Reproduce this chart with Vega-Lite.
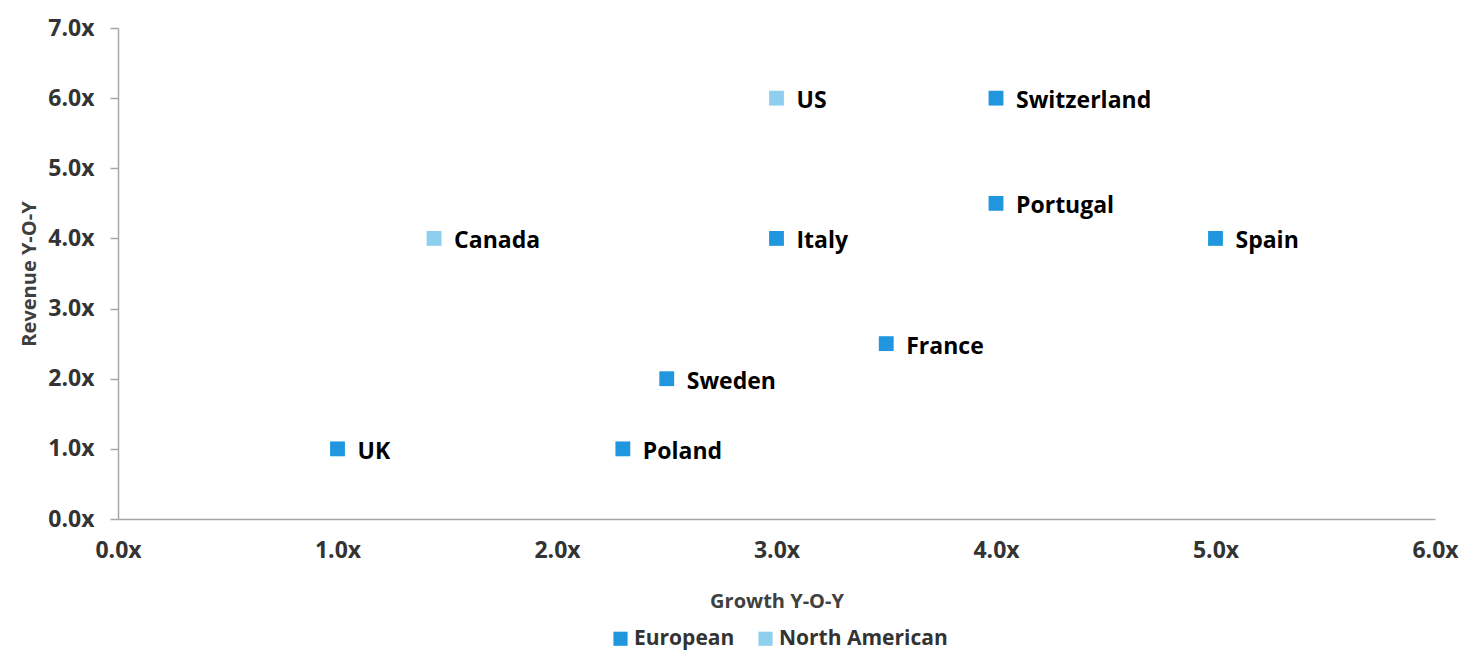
{
  "$schema": "https://vega.github.io/schema/vega-lite/v6.json",
  "autosize": {"type": "none"},
  "width": 1317,
  "height": 491,
  "padding": {"left": 118, "top": 28, "right": 42, "bottom": 137},
  "background": "white",
  "config": {
    "font": "Open Sans",
    "view": {"stroke": null}
  },
  "data": {
    "values": [
      {"country": "UK", "growth": 1.0, "revenue": 1.0, "region": "European"},
      {"country": "Canada", "growth": 1.44, "revenue": 4.0, "region": "North American"},
      {"country": "Poland", "growth": 2.3, "revenue": 1.0, "region": "European"},
      {"country": "Sweden", "growth": 2.5, "revenue": 2.0, "region": "European"},
      {"country": "Italy", "growth": 3.0, "revenue": 4.0, "region": "European"},
      {"country": "US", "growth": 3.0, "revenue": 6.0, "region": "North American"},
      {"country": "France", "growth": 3.5, "revenue": 2.5, "region": "European"},
      {"country": "Switzerland", "growth": 4.0, "revenue": 6.0, "region": "European"},
      {"country": "Portugal", "growth": 4.0, "revenue": 4.5, "region": "European"},
      {"country": "Spain", "growth": 5.0, "revenue": 4.0, "region": "European"}
    ]
  },
  "encoding": {
    "x": {
      "field": "growth", "type": "quantitative",
      "scale": {"domain": [0, 6], "nice": false, "zero": true},
      "axis": {
        "title": "Growth Y-O-Y", "values": [0, 1, 2, 3, 4, 5, 6], "format": ".1f", "labelExpr": "datum.label + 'x'",
        "grid": false, "ticks": false, "domainColor": "#A6A6A6", "domainWidth": 1.5,
        "labelFlush": false, "labelOverlap": false,
        "labelFont": "Open Sans", "labelFontWeight": "bold", "labelFontSize": 23, "labelColor": "#333333", "labelPadding": 20,
        "titleFont": "Open Sans", "titleFontWeight": "bold", "titleFontSize": 20, "titleColor": "#404040", "titlePadding": 29
      }
    },
    "y": {
      "field": "revenue", "type": "quantitative",
      "scale": {"domain": [0, 7], "nice": false},
      "axis": {
        "title": "Revenue Y-O-Y", "values": [0, 1, 2, 3, 4, 5, 6, 7], "format": ".1f", "labelExpr": "datum.label + 'x'",
        "grid": false, "ticks": true, "tickSize": 8, "tickColor": "#A6A6A6", "tickWidth": 1.5, "domainColor": "#A6A6A6", "domainWidth": 1.5,
        "labelFlush": false, "labelOverlap": false,
        "labelFont": "Open Sans", "labelFontWeight": "bold", "labelFontSize": 23, "labelColor": "#333333", "labelPadding": 16,
        "titleFont": "Open Sans", "titleFontWeight": "bold", "titleFontSize": 20, "titleColor": "#404040", "titlePadding": 8
      }
    }
  },
  "layer": [
    {
      "mark": {"type": "point", "shape": "square", "filled": true, "opacity": 1, "size": 220},
      "encoding": {
        "color": {
          "field": "region", "type": "nominal",
          "scale": {"domain": ["European", "North American"], "range": ["#1F96DE", "#8ECFF0"]},
          "legend": {
            "title": null, "orient": "none", "direction": "horizontal", "legendX": 492, "legendY": 600,
            "symbolType": "square", "symbolSize": 200, "symbolStrokeWidth": 0,
            "labelFont": "Open Sans", "labelFontWeight": "bold", "labelFontSize": 21, "labelColor": "#333333", "labelLimit": 400,
            "columnPadding": 20, "labelOffset": 3
          }
        }
      }
    },
    {
      "mark": {"type": "text", "align": "left", "baseline": "middle", "dx": 20, "dy": 3, "font": "Open Sans", "fontWeight": "bold", "fontSize": 23, "color": "#000000"},
      "encoding": {"text": {"field": "country"}}
    }
  ]
}
